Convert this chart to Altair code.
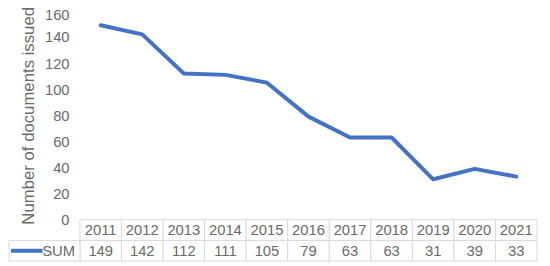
import altair as alt
import pandas as pd

years = ["2011", "2012", "2013", "2014", "2015", "2016", "2017", "2018", "2019", "2020", "2021"]
values = [149, 142, 112, 111, 105, 79, 63, 63, 31, 39, 33]
series_name = "SUM"
y_title = "Number of documents issued"
y_ticks = [0, 20, 40, 60, 80, 100, 120, 140, 160]

FONT = "Liberation Sans"
TEXT = "#6a6a6a"
GRID = "#8a8a8a"
BORDER = "#d9d9d9"
LINE = "#4472C4"
W = 464
PLOT_H = 212
ROW_H = 21
H = PLOT_H + 2 * ROW_H

df = pd.DataFrame({"year": years, "value": values})

line = alt.Chart(df).mark_line(color=LINE, strokeWidth=4, strokeCap="round", strokeJoin="round").encode(
    x=alt.X("year:O", sort=years, axis=None),
    y=alt.Y("value:Q", scale=alt.Scale(domain=[0, 160], nice=False, range=[PLOT_H, 0]),
            axis=alt.Axis(values=y_ticks, title=y_title, domain=False, ticks=False,
                          labelPadding=11, labelFontSize=15, labelColor=TEXT, labelFont=FONT,
                          labelOffset={"condition": {"test": "datum.value === 160", "value": 4}, "value": 0},
                          titleFont=FONT, titleFontSize=17, titleColor=TEXT, titleFontWeight="normal",
                          titlePadding=7,
                          gridColor={"condition": {"test": "datum.value === 0", "value": BORDER}, "value": GRID},
                          gridWidth=1)),
)

rows = ["year", series_name]
tbl = pd.DataFrame({
    "year": years * 2,
    "row": ["year"] * len(years) + [series_name] * len(years),
    "label": years + [str(v) for v in values],
})

tscale = alt.Scale(paddingInner=0, paddingOuter=0, range=[PLOT_H, H])
xb = alt.X("year:N", sort=years, axis=None, scale=alt.Scale(paddingInner=0, paddingOuter=0))
yb = alt.Y("row:N", sort=rows, axis=None, scale=tscale)

cells = alt.Chart(tbl).mark_rect(fill="white", stroke=BORDER, strokeWidth=1).encode(x=xb, y=yb)
texts = alt.Chart(tbl).mark_text(font=FONT, fontSize=15, color=TEXT).encode(x=xb, y=yb, text="label:N")

leg = pd.DataFrame({"row": [series_name], "label": [series_name]})
leg_cell = alt.Chart(leg).mark_rect(fill="white", stroke=BORDER, strokeWidth=1).encode(
    x=alt.value(-72), x2=alt.value(0), y=yb)
leg_line = alt.Chart(leg).mark_rule(color=LINE, strokeWidth=4).encode(
    x=alt.value(-70), x2=alt.value(-38),
    y=alt.Y("row:N", sort=rows, axis=None, bandPosition=0.5, scale=tscale))
leg_text = alt.Chart(leg).mark_text(font=FONT, fontSize=15, color=TEXT, align="right").encode(
    x=alt.value(-5), y=yb, text="label:N")

table = alt.layer(cells, texts, leg_cell, leg_line, leg_text)

chart = alt.layer(table, line).resolve_scale(y="independent", x="independent").properties(
    width=W, height=H,
    autosize=alt.AutoSizeParams(type="none"),
    padding={"left": 73, "top": 1, "right": 5, "bottom": 2},
).configure_view(stroke=None)

chart.save("out.html", embed_options={"renderer": "svg", "actions": False})
